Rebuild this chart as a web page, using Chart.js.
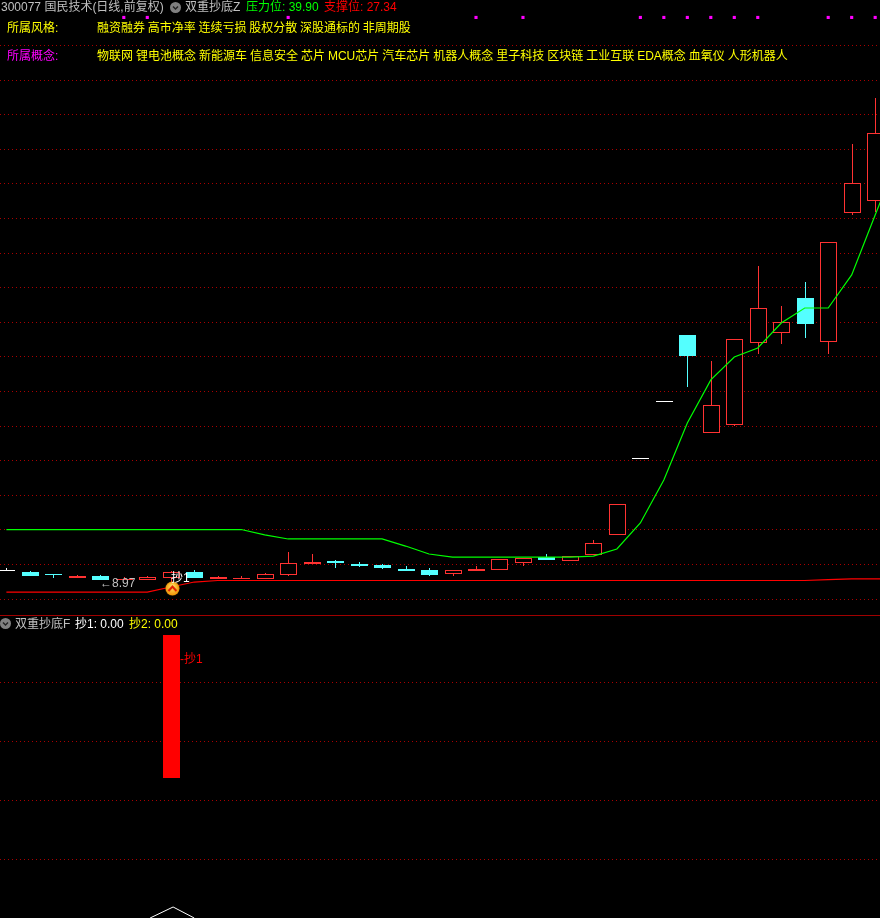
<!DOCTYPE html>
<html>
<head>
<meta charset="utf-8">
<title>300077 国民技术</title>
<script src="https://cdn.jsdelivr.net/npm/chart.js@4"></script>
<style>
    html, body { margin: 0; padding: 0; background: #000; overflow: hidden; }
    #page { position: relative; width: 880px; height: 918px; background: #000; }
    canvas { position: absolute; left: 0; display: block; }
    #mainChart { top: 0; }
    #subChart { top: 616px; }
    #divider { position: absolute; left: 0; top: 615px; width: 880px; height: 1px; background: #a00000; }
    .t {
        position: absolute; white-space: pre; line-height: 14px; height: 14px;
        font: 12px/14px "Liberation Sans", "Noto Sans CJK SC", sans-serif;
    }
    .grey { color: #c0c0c0; } .green { color: #00ff00; } .red { color: #ff0000; }
    .yellow { color: #ffff00; } .pink { color: #ff00ff; } .white { color: #fff; }
    .ico { position: absolute; width: 11px; height: 11px; }
</style>
</head>
<body>
<div id="page">
    <canvas id="mainChart" width="880" height="615"></canvas>
    <div id="divider"></div>
    <canvas id="subChart" width="880" height="302"></canvas>

    <span class="t grey" style="left:1px;top:0px">300077 国民技术(日线,前复权)</span>
    <svg class="ico" style="left:170px;top:2px" viewBox="0 0 11 11"><circle cx="5.5" cy="5.5" r="5.5" fill="#808080"/><path d="M3 4.5l2.5 2.5 2.5-2.5" stroke="#222" stroke-width="1.4" fill="none"/></svg>
    <span class="t grey" style="left:185px;top:0px">双重抄底Z</span>
    <span class="t green" style="left:246px;top:0px">压力位: 39.90</span>
    <span class="t red" style="left:324px;top:0px">支撑位: 27.34</span>

    <span class="t yellow" style="left:7px;top:21px">所属风格:</span>
    <span class="t yellow" style="left:97px;top:21px;word-spacing:-0.6px">融资融券 高市净率 连续亏损 股权分散 深股通标的 非周期股</span>
    <span class="t pink" style="left:7px;top:49px">所属概念:</span>
    <span class="t yellow" style="left:97px;top:49px;word-spacing:-0.35px">物联网 锂电池概念 新能源车 信息安全 芯片 MCU芯片 汽车芯片 机器人概念 里子科技 区块链 工业互联 EDA概念 血氧仪 人形机器人</span>

    <span class="t grey" style="left:100px;top:576px">←8.97</span>
    <span class="t white" style="left:171px;top:571px">抄1</span>

    <svg class="ico" style="left:0px;top:618px" viewBox="0 0 11 11"><circle cx="5.5" cy="5.5" r="5.5" fill="#808080"/><path d="M3 4.5l2.5 2.5 2.5-2.5" stroke="#222" stroke-width="1.4" fill="none"/></svg>
    <span class="t grey" style="left:15px;top:617px">双重抄底F</span>
    <span class="t white" style="left:75px;top:617px">抄1: 0.00</span>
    <span class="t yellow" style="left:129px;top:617px">抄2: 0.00</span>
    <span class="t red" style="left:180px;top:652px">-抄1</span>
</div>

<script>
// K线数据 (从图上读的)
const opens = [9.80, 9.76, 9.53, 9.33, 9.47, 9.19, 9.19, 9.33, 9.76, 9.26, 9.26, 9.26, 9.55, 10.34, 10.55, 10.34, 10.27, 9.98, 9.91,
    9.62, 9.83, 9.91, 10.41, 10.84, 10.55, 10.99, 12.43, 17.93, 21.97, 26.83, 19.77, 20.35, 26.25, 26.97, 29.49, 26.32, 35.61, 36.47];
const closes = [9.80, 9.47, 9.52, 9.47, 9.19, 9.26, 9.40, 9.76, 9.33, 9.40, 9.33, 9.62, 10.41, 10.48, 10.41, 10.19, 10.05, 9.83, 9.55,
    9.91, 9.98, 10.70, 10.77, 10.63, 10.91, 11.85, 14.66, 17.93, 21.97, 25.31, 21.79, 26.54, 28.77, 27.76, 27.62, 33.52, 37.77, 41.37];
const highs = [10.05, 9.83, 9.55, 9.55, 9.55, 9.40, 9.47, 9.83, 9.91, 9.47, 9.47, 9.69, 11.20, 11.06, 10.63, 10.48, 10.34, 10.19, 10.05,
    9.91, 10.19, 10.70, 10.77, 11.06, 10.91, 12.07, 14.66, 17.93, 21.97, 26.83, 24.95, 26.54, 31.79, 28.91, 30.64, 33.52, 40.58, 43.89];
const lows = [9.80, 9.47, 9.33, 9.33, 9.19, 9.19, 9.19, 8.97, 9.33, 9.26, 9.26, 9.26, 9.47, 10.34, 10.05, 10.12, 9.98, 9.83, 9.47,
    9.47, 9.83, 9.91, 10.19, 10.63, 10.55, 10.99, 12.43, 17.93, 21.97, 23.08, 19.77, 20.27, 25.46, 26.18, 26.61, 25.46, 35.47, 35.68];

// 压力线 / 支撑线, 最后一个点在屏幕外
const pressureLine = [12.82, 12.82, 12.82, 12.82, 12.82, 12.82, 12.82, 12.82, 12.82, 12.82, 12.82, 12.43, 12.14, 12.14, 12.14, 12.14, 12.14,
    11.63, 11.06, 10.84, 10.84, 10.84, 10.84, 10.84, 10.84, 10.91, 11.42, 13.29, 16.39, 20.49, 23.59, 25.24, 25.89, 27.69, 28.77, 28.77, 31.15, 35.47, 39.71];
const supportLine = [8.32, 8.32, 8.32, 8.32, 8.32, 8.32, 8.32, 8.68, 9.04, 9.15, 9.15, 9.15, 9.15, 9.15, 9.15, 9.15, 9.15, 9.15, 9.15,
    9.15, 9.15, 9.15, 9.15, 9.15, 9.15, 9.15, 9.15, 9.15, 9.15, 9.15, 9.15, 9.15, 9.15, 9.15, 9.15, 9.22, 9.26, 9.26, 9.26];

// 顶部紫色小点
const markDays = [5, 6, 12, 20, 22, 27, 28, 29, 30, 31, 32, 35, 36, 37];
const markLevel = 49.69;

// 抄底信号
const signalDay = 7;
const signalIconDay = 7.07;
const signalLevel = 8.57;
const signalBar = [0, 1];

// 副图底部的白色三角
const arrowDays = [6.12, 7.1, 8.0];
const arrowValues = [-0.979, -0.902, -0.979];

// 网格线
const mainGrid = [47.67, 45.18, 42.69, 40.20, 37.71, 35.21, 32.72, 30.23, 27.74, 25.25, 22.76, 20.27, 17.77, 15.28, 12.79, 10.30, 7.81];
const subGrid = [0.668, 0.255, -0.157, -0.570];

const RED = '#ff3232';
const CYAN = '#54ffff';
const GRID_RED = '#aa0000';

function candleColor(i) {
    if (opens[i] === closes[i]) return '#ffffff';
    return closes[i] > opens[i] ? RED : CYAN;
}

// 抄底图标
function makeSignalIcon() {
    const c = document.createElement('canvas');
    c.width = 15;
    c.height = 15;
    const g = c.getContext('2d');
    const grad = g.createRadialGradient(7.5, 5, 1, 7.5, 7.5, 7.5);
    grad.addColorStop(0, '#ffe060');
    grad.addColorStop(1, '#f09000');
    g.fillStyle = grad;
    g.beginPath();
    g.arc(7.5, 7.5, 7, 0, Math.PI * 2);
    g.fill();
    g.strokeStyle = '#e02000';
    g.lineWidth = 2;
    g.beginPath();
    g.moveTo(3.5, 10);
    g.lineTo(7.5, 5.5);
    g.lineTo(11.5, 10);
    g.stroke();
    return c;
}

// 柱子对齐到整像素, 不然边框发虚
const snapBars = {
    id: 'snapBars',
    beforeDatasetDraw(chart, args) {
        const meta = args.meta;
        if (meta.type !== 'bar') return;
        meta.data.forEach(el => {
            el.x = Math.ceil(el.x - 8.5) + 8.5;
            el.y = Math.round(el.y);
            el.base = Math.round(el.base);
        });
    }
};

function xAxis() {
    return { type: 'linear', display: false, offset: false, min: -0.2726, max: 37.206 };
}

function yAxis(min, max, levels) {
    return {
        type: 'linear',
        min: min,
        max: max,
        afterBuildTicks: scale => { scale.ticks = levels.map(v => ({ value: v })); },
        afterFit: scale => { scale.width = 0; },
        ticks: { display: false },
        border: { display: false, dash: [1, 3] },
        grid: { color: GRID_RED, lineWidth: 1, drawTicks: false }
    };
}

const baseOptions = {
    responsive: false,
    animation: false,
    events: [],
    layout: { padding: 0, autoPadding: false },
    plugins: { legend: { display: false }, tooltip: { enabled: false } }
};

new Chart(document.getElementById('mainChart'), {
    plugins: [snapBars],
    data: {
        datasets: [
            {
                type: 'bar', order: 6, grouped: false, barThickness: 1, inflateAmount: 0,
                data: highs.map((h, i) => ({ x: i, y: [lows[i], h] })),
                backgroundColor: highs.map((h, i) => candleColor(i)),
                borderWidth: 0
            },
            {
                type: 'bar', order: 5, grouped: false, barThickness: 17, minBarLength: 1, inflateAmount: 0,
                data: opens.map((o, i) => ({ x: i, y: [o, closes[i]] })),
                backgroundColor: opens.map((o, i) => closes[i] > o ? '#000000' : candleColor(i)),
                borderColor: opens.map((o, i) => candleColor(i)),
                borderWidth: 1,
                borderSkipped: false
            },
            {
                type: 'line', order: 4,
                data: supportLine.map((v, i) => ({ x: i, y: v })),
                borderColor: '#ff0000', borderWidth: 1.2, pointRadius: 0, tension: 0
            },
            {
                type: 'line', order: 3,
                data: pressureLine.map((v, i) => ({ x: i, y: v })),
                borderColor: '#00ff00', borderWidth: 1.2, pointRadius: 0, tension: 0
            },
            {
                type: 'scatter', order: 2,
                data: markDays.map(d => ({ x: d, y: markLevel })),
                pointStyle: 'rect', pointRadius: 2.2, borderWidth: 0,
                backgroundColor: '#ff00ff'
            },
            {
                type: 'scatter', order: 1,
                data: [{ x: signalIconDay, y: signalLevel }],
                pointStyle: makeSignalIcon()
            }
        ]
    },
    options: {
        ...baseOptions,
        scales: { x: xAxis(), y: yAxis(6.666, 50.946, mainGrid) }
    }
});

new Chart(document.getElementById('subChart'), {
    plugins: [snapBars],
    data: {
        datasets: [
            {
                type: 'bar', order: 2, grouped: false, barThickness: 17, inflateAmount: 0,
                data: [{ x: signalDay, y: signalBar }],
                backgroundColor: '#ff0000', borderWidth: 0
            },
            {
                type: 'line', order: 1,
                data: arrowDays.map((d, i) => ({ x: d, y: arrowValues[i] })),
                borderColor: '#ffffff', borderWidth: 1, pointRadius: 0, tension: 0
            }
        ]
    },
    options: {
        ...baseOptions,
        scales: { x: xAxis(), y: yAxis(-0.979, 1.1329, subGrid) }
    }
});
</script>
</body>
</html>
